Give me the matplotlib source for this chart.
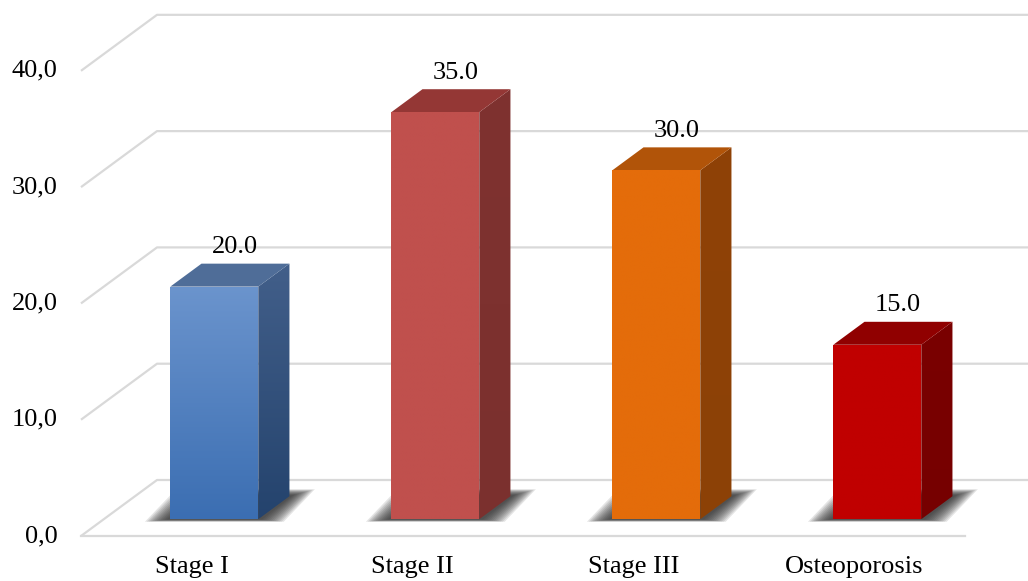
import numpy as np
import matplotlib
matplotlib.use("Agg")
import matplotlib.pyplot as plt
from matplotlib.patches import Polygon
from matplotlib.colors import LinearSegmentedColormap

# ---- data ----
categories = ["Stage I", "Stage II", "Stage III", "Osteoporosis"]
values = [20.0, 35.0, 30.0, 15.0]
yticks = [0, 10, 20, 30, 40]
ytick_labels = ["0,0", "10,0", "20,0", "30,0", "40,0"]
value_labels = ["20.0", "35.0", "30.0", "15.0"]

# ---- styles ----
front_top = ["#6b94cd", "#c0504d", "#e46c0a", "#c00000"]
front_bot = ["#3b6eb2", "#c0504d", "#e46c0a", "#c00000"]
top_col = ["#4f6d98", "#943735", "#b15409", "#900000"]
side_top = ["#425f8a", "#7f3230", "#8f4207", "#7a0000"]
side_bot = ["#24436d", "#7b302e", "#8c4106", "#760000"]

plt.rcParams['font.family'] = ['Liberation Serif', 'DejaVu Serif']
FS = 19

fig = plt.figure(figsize=(10.28, 5.81), dpi=100)
ax = fig.add_axes([0, 0, 1, 1])
ax.set_xlim(-0.3665, 4.285)
ax.set_ylim(-3.87, 46.09)
ax.axis("off")

DU, DV = 0.3439, 4.815   # depth vector of the full floor depth
D0, D1 = 0.30, 0.71      # bar depth span
W = 0.398                # bar width in category units

def proj(u, v, d):
    return (u + d * DU, v + d * DV)

grid_c = "#d9d9d9"
# gridlines
for t in yticks:
    p0 = proj(0, t, 0)
    p1 = proj(0, t, 1)
    p2 = proj(len(categories) + 0.2, t, 1)
    ax.plot([p0[0], p1[0], p2[0]], [p0[1], p1[1], p2[1]], color=grid_c, lw=1.6,
            zorder=1, solid_capstyle="butt")
# front floor edge
a = proj(0, 0, 0); b = proj(len(categories), 0, 0)
ax.plot([a[0], b[0]], [a[1], b[1]], color=grid_c, lw=1.6, zorder=1)

# tick labels
for t, lab in zip(yticks, ytick_labels):
    x, y = proj(-0.105, t, 0)
    ax.text(x, y, lab, ha="right", va="center", fontsize=FS, color="#000000")

def gradient_fill(poly, c1, c2, extent, z):
    cmap = LinearSegmentedColormap.from_list("g", [c2, c1])
    grad = np.linspace(0, 1, 256).reshape(-1, 1)
    im = ax.imshow(grad, cmap=cmap, extent=extent, origin="lower",
                   aspect="auto", zorder=z, interpolation="bilinear")
    im.set_clip_path(poly)

for i, val in enumerate(values):
    xc = i + 0.5 + D0 * DU
    xl, xr = xc - W / 2, xc + W / 2
    b0 = D0 * DV
    t0 = val + D0 * DV
    du = (D1 - D0) * DU
    dv = (D1 - D0) * DV

    # shadow on floor (layered to imitate blur)
    for f in np.linspace(1.0, 0.15, 12):
        ex = 0.115 * f
        ef = 0.22 * f
        pts = [(xl - ex, b0 - ef), (xr + ex, b0 - ef),
               (xr + du + ex, b0 + dv + 0.6 * f), (xl + du - ex, b0 + dv + 0.6 * f)]
        ax.add_patch(Polygon(pts, closed=True, facecolor="#262626",
                             edgecolor="none", alpha=0.12, zorder=2))

    # side face
    side = Polygon([(xr, b0), (xr, t0), (xr + du, t0 + dv), (xr + du, b0 + dv)],
                   closed=True, facecolor="none", edgecolor="none", zorder=3)
    ax.add_patch(side)
    gradient_fill(side, side_top[i], side_bot[i], [xr, xr + du, b0, t0 + dv], 3)

    # top face
    ax.add_patch(Polygon([(xl, t0), (xr, t0), (xr + du, t0 + dv), (xl + du, t0 + dv)],
                         closed=True, facecolor=top_col[i], edgecolor="none", zorder=3))

    # front face
    front = Polygon([(xl, b0), (xr, b0), (xr, t0), (xl, t0)], closed=True,
                    facecolor="none", edgecolor="none", zorder=4)
    ax.add_patch(front)
    gradient_fill(front, front_top[i], front_bot[i], [xl, xr, b0, t0], 4)

    # value label
    lx, ly = proj(i + 0.5, val, D1)
    ax.text(i + 0.5 + 0.57 * DU, ly + 1.43, value_labels[i], ha="center",
            va="center", fontsize=FS, color="#000000", zorder=5)

    # category label
    ax.text(i + 0.5, -2.67, categories[i], ha="center", va="center",
            fontsize=FS, color="#000000")

fig.savefig("out.png", dpi=100)
